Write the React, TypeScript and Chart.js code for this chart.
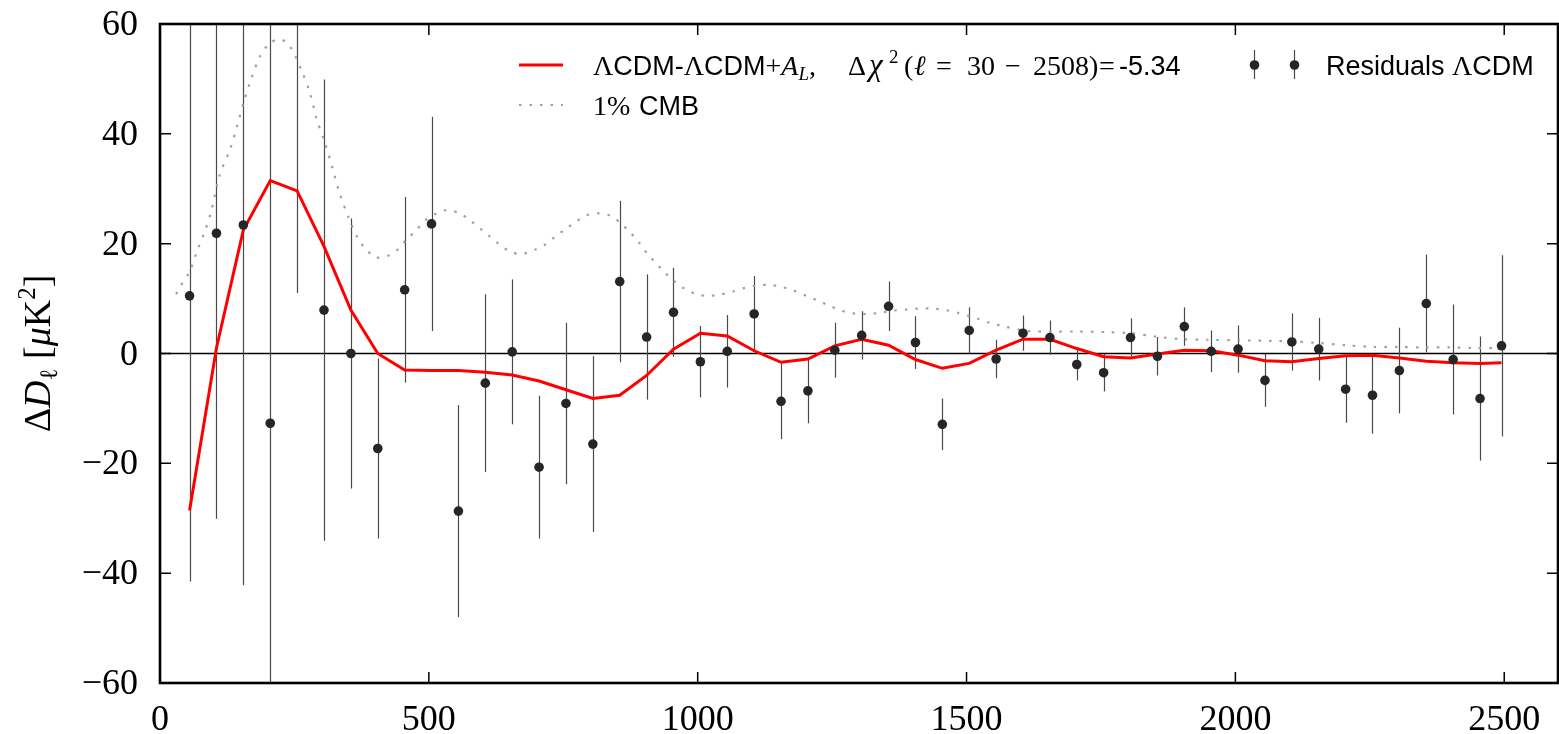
import React, { useEffect, useRef } from "react";
import { Chart, registerables } from "chart.js";

Chart.register(...registerables);

// ---- data ----
const residualEll = [
  55, 105, 155, 205, 255, 305, 355, 405, 455, 505,
  555, 605, 655, 705, 755, 805, 855, 905, 955, 1005,
  1055, 1105, 1155, 1205, 1255, 1305, 1355, 1405, 1455, 1505,
  1555, 1605, 1655, 1705, 1755, 1805, 1855, 1905, 1955, 2005,
  2055, 2105, 2155, 2205, 2255, 2305, 2355, 2405, 2455, 2495,
];
const residualVal = [
  10.5, 21.9, 23.4, -12.7, 62.0, 7.9, 0.0, -17.3, 11.6, 23.6,
  -28.7, -5.4, 0.3, -20.7, -9.1, -16.5, 13.1, 3.0, 7.5, -1.5,
  0.4, 7.2, -8.7, -6.8, 0.6, 3.3, 8.6, 2.0, -12.9, 4.2,
  -1.0, 3.7, 2.9, -2.0, -3.5, 2.9, -0.5, 4.9, 0.4, 0.8,
  -4.9, 2.1, 0.8, -6.5, -7.6, -3.1, 9.1, -1.1, -8.2, 1.4,
];
const residualErr = [
  52.0, 52.0, 65.6, 75.0, 51.0, 42.0, 24.6, 16.4, 16.9, 19.5,
  19.3, 16.2, 13.2, 13.0, 14.7, 16.0, 14.7, 11.4, 8.1, 6.5,
  6.6, 6.9, 6.9, 5.9, 5.0, 4.4, 4.5, 4.8, 4.7, 4.2,
  3.5, 3.2, 3.1, 2.9, 3.4, 3.5, 3.5, 3.5, 3.8, 4.3,
  4.8, 5.2, 5.7, 6.1, 7.0, 7.8, 8.9, 10.0, 11.3, 16.5,
];
const modelVal = [
  -28.6, 1.0, 22.5, 31.5, 29.6, 19.5, 7.9, 0.0, -3.0, -3.1,
  -3.1, -3.4, -3.9, -5.0, -6.6, -8.2, -7.6, -4.0, 0.8, 3.7,
  3.2, 0.5, -1.6, -1.0, 1.4, 2.6, 1.5, -1.1, -2.7, -1.8,
  0.6, 2.6, 2.6, 0.9, -0.6, -0.8, -0.1, 0.6, 0.5, -0.3,
  -1.3, -1.5, -0.9, -0.4, -0.3, -0.8, -1.4, -1.7, -1.8, -1.7,
];
const cmbEll = [
  30, 42, 55, 71, 81, 95, 111, 130, 144, 156, 170, 186, 204, 224, 242, 263,
  279, 291, 307, 321, 333, 350, 369, 384, 401, 424, 443, 458, 477, 493, 514,
  533, 558, 576, 595, 613, 632, 651, 672, 697, 716, 734, 755, 775, 794, 818,
  840, 858, 875, 891, 906, 923, 940, 957, 974, 998, 1019, 1041, 1066, 1090,
  1112, 1134, 1157, 1180, 1202, 1224, 1245, 1267, 1289, 1313, 1338, 1363,
  1388, 1413, 1437, 1462, 1484, 1506, 1525, 1543, 1571, 1613, 1660, 1710,
  1760, 1805, 1851, 1901, 1950, 2000, 2067, 2108, 2156, 2206, 2256, 2302,
  2349, 2399, 2446, 2495,
];
const cmbVal = [
  10.8, 12.9, 14.9, 19.2, 21.6, 25.8, 32.5, 37.1, 41.6, 45.9, 50.1, 54.1, 56.5, 57.2, 55.9, 51.6,
  47.4, 42.8, 38.3, 33.7, 29.5, 24.9, 20.8, 18.9, 17.5, 17.8, 19.0, 20.7, 22.5, 24.2, 25.5,
  26.1, 25.5, 24.3, 22.8, 21.3, 19.8, 18.6, 18.1, 18.9, 19.8, 21.2, 22.7, 24.1, 25.2, 25.5,
  25.0, 23.6, 22.0, 20.2, 18.2, 16.4, 14.6, 13.1, 11.9, 10.8, 10.5, 10.7, 11.3, 12.0,
  12.4, 12.5, 12.1, 11.4, 10.5, 9.6, 8.7, 7.8, 7.3, 7.2, 7.4, 7.8,
  8.0, 8.2, 8.2, 7.9, 7.4, 6.8, 6.2, 5.6, 4.9, 4.1, 4.0, 4.0,
  3.9, 3.7, 3.1, 2.6, 2.5, 2.4, 2.3, 2.2, 1.9, 1.5, 1.2, 1.2,
  1.1, 1.1, 1.0, 1.0,
];
const xTicks = [0, 500, 1000, 1500, 2000, 2500];
const xTickLabels = ["0", "500", "1000", "1500", "2000", "2500"];
const yTicks = [-60, -40, -20, 0, 20, 40, 60];
const yTickLabels = ["\u221260", "\u221240", "\u221220", "0", "20", "40", "60"];

const SERIF = '"Liberation Serif", "DejaVu Serif", serif';
const SANS = '"Liberation Sans", "DejaVu Sans", sans-serif';

type Run = { t: string; f: string; dy?: number; x?: number };

function runsWidth(ctx: CanvasRenderingContext2D, runs: Run[]) {
  let w = 0;
  for (const r of runs) {
    ctx.font = r.f;
    w += ctx.measureText(r.t).width;
  }
  return w;
}
function drawRuns(ctx: CanvasRenderingContext2D, runs: Run[], x: number, y: number) {
  let cx = x;
  for (const r of runs) {
    if (r.x !== undefined) cx = r.x;
    ctx.font = r.f;
    ctx.fillText(r.t, cx, y + (r.dy || 0));
    cx += ctx.measureText(r.t).width;
  }
  return cx;
}

export default function App() {
  const ref = useRef<HTMLCanvasElement | null>(null);

  useEffect(() => {
    const canvas = ref.current;
    if (!canvas) return;

    const decor = {
      id: "decor",
      beforeDatasetsDraw(chart: any) {
        const ctx = chart.ctx as CanvasRenderingContext2D;
        const xs = chart.scales.x;
        const ys = chart.scales.y;
        const a = chart.chartArea;
        ctx.save();
        ctx.beginPath();
        ctx.rect(a.left, a.top, a.right - a.left, a.bottom - a.top);
        ctx.clip();
        // zero line
        ctx.strokeStyle = "#000";
        ctx.lineWidth = 1.5;
        ctx.beginPath();
        ctx.moveTo(a.left, ys.getPixelForValue(0));
        ctx.lineTo(a.right, ys.getPixelForValue(0));
        ctx.stroke();
        // error bars
        ctx.strokeStyle = "#4a4a4a";
        ctx.lineWidth = 1.2;
        for (let i = 0; i < residualEll.length; i++) {
          const px = Math.round(xs.getPixelForValue(residualEll[i])) + 0.5;
          ctx.beginPath();
          ctx.moveTo(px, ys.getPixelForValue(residualVal[i] - residualErr[i]));
          ctx.lineTo(px, ys.getPixelForValue(residualVal[i] + residualErr[i]));
          ctx.stroke();
        }
        ctx.restore();
      },
      afterDraw(chart: any) {
        const ctx = chart.ctx as CanvasRenderingContext2D;
        const xs = chart.scales.x;
        const ys = chart.scales.y;
        const a = chart.chartArea;
        ctx.save();
        // inward ticks
        ctx.strokeStyle = "#000";
        ctx.lineWidth = 1.5;
        const tl = 11;
        for (const v of xTicks) {
          const px = xs.getPixelForValue(v);
          ctx.beginPath();
          ctx.moveTo(px, a.bottom);
          ctx.lineTo(px, a.bottom - tl);
          ctx.moveTo(px, a.top);
          ctx.lineTo(px, a.top + tl);
          ctx.stroke();
        }
        for (const v of yTicks) {
          const py = ys.getPixelForValue(v);
          ctx.beginPath();
          ctx.moveTo(a.left, py);
          ctx.lineTo(a.left + tl, py);
          ctx.moveTo(a.right, py);
          ctx.lineTo(a.right - tl, py);
          ctx.stroke();
        }
        // frame
        ctx.lineWidth = 2.6;
        ctx.strokeRect(a.left, a.top, a.right - a.left, a.bottom - a.top);

        // tick labels
        ctx.fillStyle = "#000";
        ctx.font = `36px ${SERIF}`;
        ctx.textBaseline = "alphabetic";
        ctx.textAlign = "center";
        xTicks.forEach((v, i) => {
          ctx.fillText(xTickLabels[i], xs.getPixelForValue(v), a.bottom + 47);
        });
        ctx.textAlign = "right";
        yTicks.forEach((v, i) => {
          ctx.fillText(yTickLabels[i], a.left - 22, ys.getPixelForValue(v) + 11);
        });

        // y label
        ctx.textAlign = "left";
        const yl: Run[] = [
          { t: "\u0394", f: `38px ${SERIF}` },
          { t: "D", f: `italic 38px ${SERIF}` },
          { t: "\u2113", f: `25px ${SERIF}`, dy: 7 },
          { t: " [", f: `38px ${SERIF}` },
          { t: "\u03bc", f: `italic 38px ${SERIF}` },
          { t: "K", f: `38px ${SERIF}` },
          { t: "2", f: `25px ${SERIF}`, dy: -15 },
          { t: "]", f: `38px ${SERIF}` },
        ];
        const ylw = runsWidth(ctx, yl);
        ctx.save();
        ctx.translate(50, ys.getPixelForValue(0));
        ctx.rotate(-Math.PI / 2);
        drawRuns(ctx, yl, -ylw / 2, 0);
        ctx.restore();

        // legend
        const ss = `27px ${SANS}`;
        const sr = `28px ${SERIF}`;
        const si = `italic 28px ${SERIF}`;
        const chiF = `italic 31px ${SERIF}`;
        const small = `19px ${SERIF}`;
        const smallI = `italic 19px ${SERIF}`;
        // red sample
        ctx.strokeStyle = "#ff0000";
        ctx.lineWidth = 3;
        ctx.beginPath();
        ctx.moveTo(519, 65);
        ctx.lineTo(563, 65);
        ctx.stroke();
        // dotted sample
        ctx.strokeStyle = "#a0a0a0";
        ctx.lineWidth = 2.2;
        ctx.setLineDash([2.5, 8]);
        ctx.beginPath();
        ctx.moveTo(519, 105);
        ctx.lineTo(563, 105);
        ctx.stroke();
        ctx.setLineDash([]);
        ctx.fillStyle = "#000";
        const row1: Run[] = [
          { t: "\u039b", f: sr },
          { t: "CDM-", f: ss },
          { t: "\u039b", f: sr },
          { t: "CDM", f: ss },
          { t: "+", f: sr },
          { t: "A", f: si },
          { t: "L", f: smallI, dy: 5 },
          { t: ",", f: sr },
          { t: "\u0394", f: sr, x: 848 },
          { t: "\u03c7", f: chiF, x: 869 },
          { t: "2", f: small, dy: -12, x: 889 },
          { t: "(", f: sr, x: 904 },
          { t: "\u2113", f: si, x: 914 },
          { t: "=", f: sr, x: 936 },
          { t: "30", f: sr, x: 967 },
          { t: "\u2212", f: sr, x: 1005 },
          { t: "2508)", f: sr, x: 1033 },
          { t: "=", f: sr, x: 1099 },
          { t: "-5.34", f: ss, x: 1119 },
        ];
        drawRuns(ctx, row1, 593, 75);
        const row2: Run[] = [
          { t: "1%", f: sr },
          { t: "CMB", f: ss, x: 639 },
        ];
        drawRuns(ctx, row2, 593, 115);
        // residual markers
        ctx.strokeStyle = "#4a4a4a";
        ctx.lineWidth = 1.2;
        for (const mx of [1254, 1294]) {
          ctx.beginPath();
          ctx.moveTo(mx + 0.5, 50);
          ctx.lineTo(mx + 0.5, 79);
          ctx.stroke();
          ctx.fillStyle = "#262626";
          ctx.beginPath();
          ctx.arc(mx + 0.5, 65, 4.8, 0, Math.PI * 2);
          ctx.fill();
        }
        ctx.fillStyle = "#000";
        const row3: Run[] = [
          { t: "Residuals ", f: ss },
          { t: "\u039b", f: sr },
          { t: "CDM", f: ss },
        ];
        drawRuns(ctx, row3, 1326, 75);
        ctx.restore();
      },
    };

    const chart = new Chart(canvas, {
      type: "scatter",
      data: {
        datasets: [
          {
            label: "Residuals \u039bCDM",
            data: residualEll.map((x, i) => ({ x, y: residualVal[i] })),
            showLine: false,
            pointRadius: 4.8,
            pointBackgroundColor: "#262626",
            pointBorderWidth: 0,
            pointBorderColor: "#262626",
            order: 0,
            clip: 0,
          } as any,
          {
            label: "\u039bCDM-\u039bCDM+A_L",
            data: residualEll.map((x, i) => ({ x, y: modelVal[i] })),
            showLine: true,
            borderColor: "#ff0000",
            borderWidth: 3,
            pointRadius: 0,
            tension: 0,
            order: 1,
            clip: 0,
          } as any,
          {
            label: "1% CMB",
            data: cmbEll.map((x, i) => ({ x, y: cmbVal[i] })),
            showLine: true,
            borderColor: "#a0a0a0",
            borderWidth: 2.2,
            borderDash: [2.5, 8],
            pointRadius: 0,
            tension: 0.3,
            order: 2,
            clip: 0,
          } as any,
        ],
      },
      options: {
        responsive: false,
        animation: false,
        events: [],
        layout: { autoPadding: false, padding: { top: 24, right: 1, left: 0, bottom: 0 } },
        plugins: {
          legend: { display: false },
          tooltip: { enabled: false },
          title: { display: false },
        },
        scales: {
          x: {
            type: "linear",
            min: 0,
            max: 2600,
            grid: { display: false },
            border: { display: false },
            ticks: { display: false },
            afterBuildTicks: (s: any) => {
              s.ticks = xTicks.map((v) => ({ value: v }));
            },
            afterFit: (s: any) => {
              s.height = 51;
            },
          },
          y: {
            type: "linear",
            min: -60,
            max: 60,
            grid: { display: false },
            border: { display: false },
            ticks: { display: false },
            afterBuildTicks: (s: any) => {
              s.ticks = yTicks.map((v) => ({ value: v }));
            },
            afterFit: (s: any) => {
              s.width = 160;
            },
          },
        },
      } as any,
      plugins: [decor],
    });

    return () => chart.destroy();
  }, []);

  return (
    <div style={{ position: "absolute", left: 0, top: 0, width: 1559, height: 734, background: "#fff" }}>
      <canvas ref={ref} width={1559} height={734} style={{ width: 1559, height: 734, display: "block" }} />
    </div>
  );
}
